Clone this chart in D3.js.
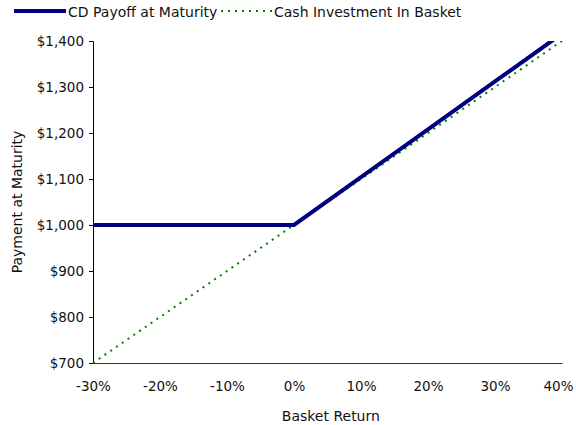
<!DOCTYPE html>
<html lang="en">
<head>
<meta charset="UTF-8">
<title>CD Payoff</title>
<script src="https://cdn.jsdelivr.net/npm/d3@7"></script>
<style>
    body { margin: 0; background: #fff; font-family: "DejaVu Sans", sans-serif; }
    svg text { fill: #111; font-size: 14px; }
</style>
</head>
<body>
<svg id="chart" width="576" height="425"></svg>
<script>
    // basket return (%) and payments
    const returns = [-30, -20, -10, 0, 10, 20, 30, 40];
    const cdPayoff = [1000, 1000, 1000, 1000, 1104, 1208, 1312, 1416];
    const cashInvest = [700, 800, 900, 1000, 1100, 1200, 1300, 1400];
    const yTicks = [700, 800, 900, 1000, 1100, 1200, 1300, 1400];
    const xTicks = [-30, -20, -10, 0, 10, 20, 30, 40];

    const margin = {top: 41, right: 14, bottom: 62, left: 93};
    const W = 576, H = 425;
    const width = W - margin.left - margin.right,
          height = H - margin.top - margin.bottom;

    const svg = d3.select("#chart");
    const g = svg.append("g").attr("transform", `translate(${margin.left},${margin.top})`);

    const x = d3.scaleLinear().domain([-30, 40]).range([0, width]);
    const y = d3.scaleLinear().domain([700, 1400]).range([height, 0]);

    g.append("clipPath").attr("id", "clip")
        .append("rect").attr("x", -2).attr("y", 0).attr("width", width + 4).attr("height", height);

    // y axis
    const yAxis = d3.axisLeft(y).tickValues(yTicks).tickSize(4).tickPadding(5)
        .tickFormat(d => "$" + d3.format(",")(d));
    g.append("g").call(yAxis)
        .call(a => a.selectAll("text").style("font-size", "13.5px").style("font-family", "DejaVu Sans"))
        .call(a => a.selectAll("line,path").attr("stroke", "#000"));

    // x axis
    const xAxis = d3.axisBottom(x).tickValues(xTicks).tickSize(0).tickPadding(18)
        .tickFormat(d => d + "%");
    g.append("g").attr("transform", `translate(0,${height})`).call(xAxis)
        .call(a => a.selectAll("text").style("font-size", "13.5px").style("font-family", "DejaVu Sans"))
        .call(a => a.selectAll(".tick text").filter(d => d === 40).attr("dx", -4))
        .call(a => a.select(".domain").attr("stroke", "#333"));

    const line = d3.line().x((d, i) => x(returns[i])).y(d => y(d));

    const lines = g.append("g").attr("clip-path", "url(#clip)");
    lines.append("path").datum(cashInvest)
        .attr("d", line).attr("fill", "none")
        .attr("stroke", "#008000").attr("stroke-width", 2).attr("stroke-dasharray", "2,5");
    lines.append("path").datum(cdPayoff)
        .attr("d", line).attr("fill", "none")
        .attr("stroke", "#000080").attr("stroke-width", 4);

    // axis titles
    svg.append("text").attr("x", margin.left + x(5.5)).attr("y", 421)
        .attr("text-anchor", "middle").text("Basket Return");
    svg.append("text").attr("transform", `translate(22,${margin.top + height / 2}) rotate(-90)`)
        .attr("text-anchor", "middle").text("Payment at Maturity");

    // legend
    const legend = svg.append("g");
    legend.append("line").attr("x1", 14).attr("x2", 66).attr("y1", 11).attr("y2", 11)
        .attr("stroke", "#000080").attr("stroke-width", 4);
    legend.append("text").attr("x", 68).attr("y", 17).text("CD Payoff at Maturity");
    legend.append("line").attr("x1", 221).attr("x2", 272).attr("y1", 11).attr("y2", 11)
        .attr("stroke", "#008000").attr("stroke-width", 2).attr("stroke-dasharray", "2,5");
    legend.append("text").attr("x", 274).attr("y", 17).text("Cash Investment In Basket");
</script>
</body>
</html>
